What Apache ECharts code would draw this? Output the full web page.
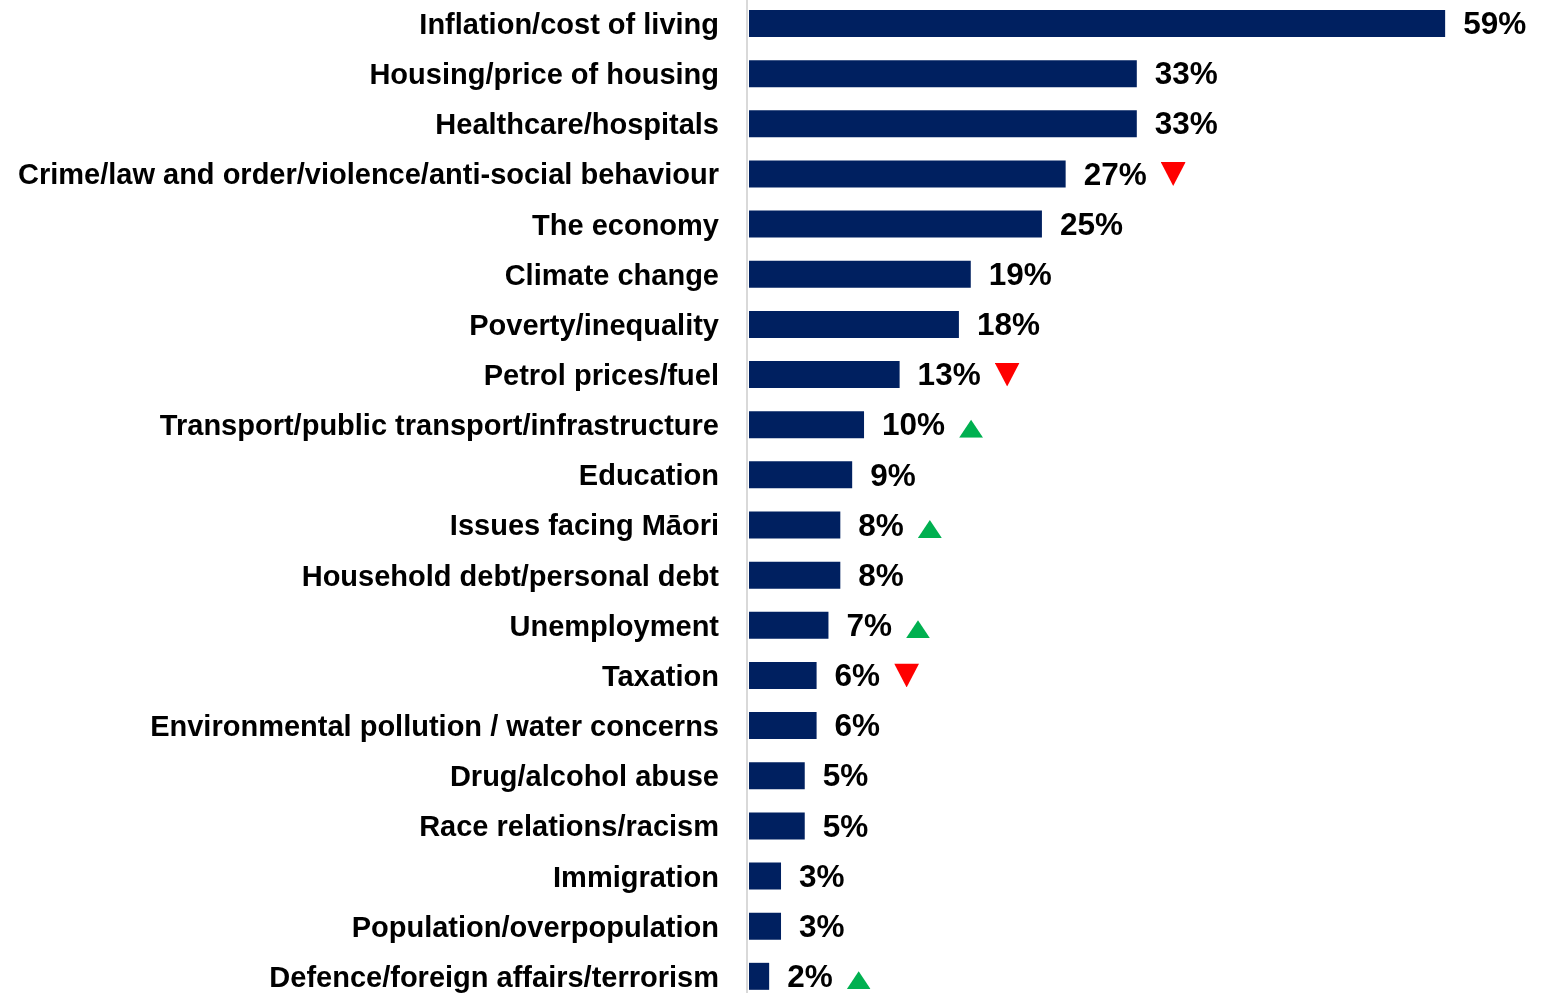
<!DOCTYPE html>
<html><head><meta charset="utf-8">
<script src="https://cdn.jsdelivr.net/npm/echarts@6/dist/echarts.min.js"></script>
<style>html,body{margin:0;padding:0;background:#fff;overflow:hidden;width:1552px;height:993px;}#c{position:absolute;left:0;top:-4px;width:1552px;height:1012px;}</style>
</head><body><div id="c"></div>
<script>
const categories = [
  'Inflation/cost of living',
  'Housing/price of housing',
  'Healthcare/hospitals',
  'Crime/law and order/violence/anti-social behaviour',
  'The economy',
  'Climate change',
  'Poverty/inequality',
  'Petrol prices/fuel',
  'Transport/public transport/infrastructure',
  'Education',
  'Issues facing Māori',
  'Household debt/personal debt',
  'Unemployment',
  'Taxation',
  'Environmental pollution / water concerns',
  'Drug/alcohol abuse',
  'Race relations/racism',
  'Immigration',
  'Population/overpopulation',
  'Defence/foreign affairs/terrorism'
];
const values = [59, 33, 33, 27, 25, 19, 18, 13, 10, 9, 8, 8, 7, 6, 6, 5, 5, 3, 3, 2];
const trends = ['', '', '', 'down', '', '', '', 'down', 'up', '', 'up', '', 'up', 'down', '', '', '', '', '', 'up'];

const upImg = 'data:image/svg+xml;charset=utf-8,' + encodeURIComponent(
  "<svg xmlns='http://www.w3.org/2000/svg' width='24' height='26' viewBox='0 0 24 26'><polygon points='0,26 12,8 24,26' fill='#00B050'/></svg>");
const dnImg = 'data:image/svg+xml;charset=utf-8,' + encodeURIComponent(
  "<svg xmlns='http://www.w3.org/2000/svg' width='25' height='24' viewBox='0 0 25 24'><polygon points='0,0 25,0 12.5,24' fill='#FF0000'/></svg>");

const chart = echarts.init(document.getElementById('c'), null, {renderer: 'canvas'});
chart.setOption({
  animation: false,
  backgroundColor: '#ffffff',
  grid: {left: 749, width: 767.3, top: 2.4, height: 1003, containLabel: false},
  xAxis: {
    type: 'value', min: 0.3, max: 65, show: false,
    splitLine: {show: false}
  },
  yAxis: {
    type: 'category', inverse: true, data: categories, offset: 2,
    axisLine: {show: true, lineStyle: {color: '#d9d9d9', width: 2}},
    axisTick: {show: false},
    axisLabel: {
      margin: 28,
      formatter: function (v) { return '{c|' + v + '}'; },
      rich: {
        c: {fontSize: 29, fontWeight: 'bold', color: '#000000',
            fontFamily: 'Liberation Sans, Arial, sans-serif', padding: [5, 0, 0, 0]}
      }
    }
  },
  series: [{
    type: 'bar',
    data: values,
    barWidth: 27,
    itemStyle: {color: '#002060'},
    label: {
      show: true, position: 'right', distance: 18,
      formatter: function (p) {
        const t = trends[p.dataIndex];
        let s = '{v|' + values[p.dataIndex] + '%}';
        if (t === 'up') s += '{sp| }{up| }';
        else if (t === 'down') s += '{sp| }{dn| }';
        return s;
      },
      rich: {
        v: {fontSize: 31.5, fontWeight: 'bold', color: '#000000', fontFamily: 'Liberation Sans, Arial, sans-serif', padding: [4, 0, 0, 0]},
        sp: {width: 14, fontSize: 10},
        up: {width: 24, height: 26, fontSize: 10, verticalAlign: 'middle', backgroundColor: {image: upImg}},
        dn: {width: 25, height: 24, fontSize: 10, verticalAlign: 'middle', backgroundColor: {image: dnImg}}
      }
    }
  }]
});
</script>
</body></html>
